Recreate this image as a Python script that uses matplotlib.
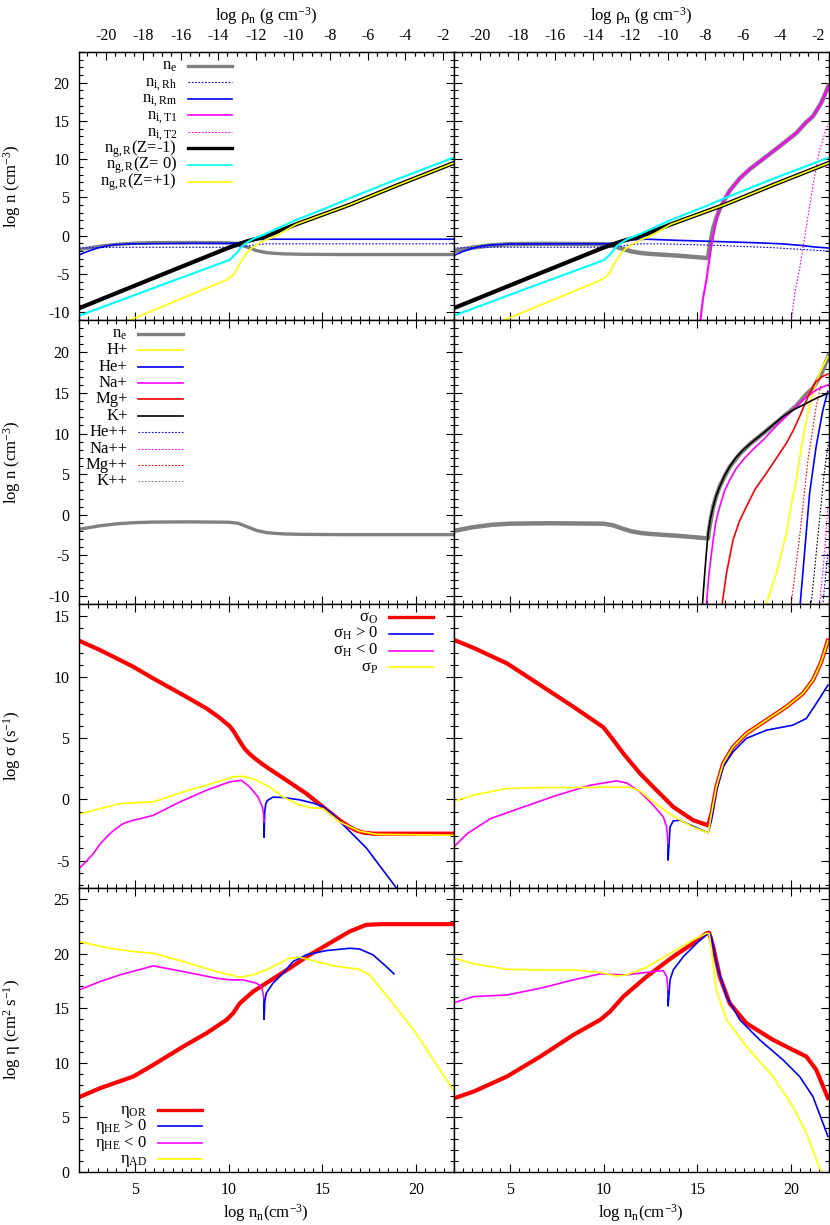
import matplotlib
matplotlib.use("Agg")
import matplotlib.pyplot as plt
from matplotlib.ticker import MultipleLocator, FixedLocator

plt.rcParams['font.family'] = ['Liberation Serif', 'DejaVu Serif']
plt.rcParams['mathtext.fontset'] = 'custom'
plt.rcParams['mathtext.rm'] = 'Liberation Serif'
plt.rcParams['mathtext.it'] = 'Liberation Serif:italic'
plt.rcParams['font.size'] = 12
plt.rcParams['axes.unicode_minus'] = False

LOG_MN = -23.43  # log10 of mean neutral mass (2.34 m_H), converts log n_n -> log rho_n

GRAY, BLUE, MAG, CYAN, YEL, RED = '#808080', '#0000ff', '#ff00ff', '#00ffff', '#ffff00', '#ff0000'

rho_ticks = [-20, -18, -16, -14, -12, -10, -8, -6, -4, -2]

# ---------------- electrons (rows 1 and 2) ----------------
ne_l_n = [2, 3, 4, 5, 6, 8, 10, 10.5, 11, 11.5, 12, 12.5, 13, 14, 16, 22]
ne_l = [-1.8, -1.4, -1.12, -0.97, -0.9, -0.88, -0.92, -1.05, -1.5, -1.95, -2.2, -2.3, -2.37, -2.42, -2.45, -2.45]

ne_r_n = [2, 3, 4, 5, 7, 10, 10.5, 11, 11.5, 12, 12.5, 14, 15.5, 15.58, 15.62, 15.7, 15.85, 16.03, 16.2,
          16.5, 16.73, 17.27, 17.8, 18.5, 19.4, 20.28, 20.8, 21.17, 21.4, 21.6, 21.8, 22]
ne_r = [-2.0, -1.55, -1.25, -1.1, -1.05, -1.1, -1.3, -1.7, -2.05, -2.25, -2.37, -2.6, -2.9, -2.9, -2.0, -0.9,
        1.0, 2.4, 3.5, 4.9, 5.9, 7.5, 8.7, 10.0, 11.7, 13.4, 14.8, 15.6, 16.5, 17.3, 18.4, 19.6]

# ---------------- row 1: ions and grains ----------------
rm_l_n = [2, 2.5, 3, 3.5, 4, 5, 8, 10, 10.5, 11, 11.5, 12, 22]
rm_l = [-2.5, -2.0, -1.6, -1.3, -1.15, -1.05, -1.0, -1.0, -0.9, -0.65, -0.5, -0.45, -0.45]
rh_l_n = [2, 4, 10, 11, 11.5, 12, 13, 22]
rh_l = [-1.6, -1.5, -1.5, -1.35, -1.15, -1.05, -1.05, -1.05]

rm_r_n = [2, 2.5, 3, 3.5, 4, 5, 8, 10, 10.5, 11, 11.5, 12.3, 14, 16, 18, 19.5, 20.5, 21.2, 22]
rm_r = [-2.6, -2.05, -1.65, -1.35, -1.2, -1.08, -1.05, -1.05, -0.95, -0.7, -0.55, -0.45, -0.6, -0.75, -0.9,
        -1.05, -1.25, -1.45, -1.6]
rh_r_n = [2, 4, 10, 11, 11.5, 12, 13, 16, 19, 22]
rh_r = [-1.6, -1.5, -1.5, -1.35, -1.15, -1.05, -1.05, -1.25, -1.55, -2.0]

t1_r_n = [15.15, 15.3, 15.5, 15.63, 15.76, 15.9, 16.03, 16.25, 16.56, 17.27, 17.8, 18.5, 19.4, 20.28, 20.8,
          21.17, 21.4, 21.6, 21.8, 22]
t1_r = [-11.5, -8.3, -5.6, -3.3, -1.25, 0.6, 2.25, 3.9, 5.3, 7.5, 8.7, 10.0, 11.7, 13.4, 14.8, 15.6, 16.5,
        17.3, 18.4, 19.6]
t2_r_n = [20.0, 20.2, 20.46, 20.8, 21.17, 21.5, 21.88, 22]
t2_r = [-11.5, -7.5, -4.3, 0.9, 6.6, 10.95, 14.0, 14.6]

gm_n = [2, 6, 10, 11, 12, 13.6, 16.45, 19, 22]
gm = [-9.47, -5.5, -1.55, -0.7, -0.05, 1.5, 4.05, 6.6, 9.5]
g0_n = [2, 6, 10.05, 10.4, 10.6, 10.8, 11.03, 11.3, 11.83, 13.6, 15.39, 16.45, 19, 22]
g0 = [-10.45, -6.8, -3.15, -2.3, -1.65, -1.15, -0.8, -0.4, 0.1, 2.07, 3.8, 4.9, 7.4, 10.2]
gp_n = [2, 4.72, 9.87, 10.15, 10.32, 10.59, 10.94, 11.2, 11.48, 11.9, 12.36, 12.7, 13.6, 16.45, 19, 22]
gp = [-13.8, -11.0, -5.77, -5.3, -4.9, -3.6, -2.3, -1.65, -1.2, -0.6, -0.2, 0.25, 1.5, 4.05, 6.6, 9.5]

# ---------------- row 2: ion species (right model) ----------------
kp_n = [15.2, 15.28, 15.4, 15.5, 15.58, 15.7, 15.85, 16.0, 16.2, 16.45, 16.73, 17.05, 17.44, 17.95, 18.51,
        19.0, 19.57, 20.1, 20.63, 21.0, 21.34, 21.65, 21.96]
kp = [-13, -10.96, -7.2, -4.3, -2.3, -0.5, 1.0, 2.3, 3.46, 4.8, 5.92, 7.0, 7.98, 9.0, 10.03, 11.0, 12.1,
      12.9, 13.5, 13.95, 14.35, 14.65, 14.96]
nap_n = [15.45, 15.49, 15.63, 15.85, 16.0, 16.2, 16.45, 16.73, 17.05, 17.44, 17.95, 18.51, 19.2, 19.9, 20.3,
         20.63, 21.0, 21.34, 21.65, 21.96]
nap = [-12, -11, -7.2, -3.1, -0.8, 1.0, 2.9, 4.28, 5.6, 6.74, 8.0, 9.2, 10.9, 12.5, 13.4, 14.14, 14.8,
       15.37, 15.7, 16.0]
mgp_n = [16.28, 16.33, 16.56, 16.91, 17.25, 17.62, 18.1, 18.68, 19.2, 19.75, 20.1, 20.46, 20.75, 20.99,
         21.34, 21.65, 21.96]
mgp = [-12, -11, -7.2, -3.1, -0.8, 1.0, 3.2, 5.1, 6.9, 8.8, 10.3, 12.1, 13.7, 14.96, 16.4, 17.0, 17.34]
hp_n = [18.6, 18.68, 19.22, 19.75, 20.0, 20.28, 20.5, 20.72, 20.95, 21.17, 21.35, 21.52, 21.75, 21.96]
hp = [-12, -11, -7.2, -2.3, 1.0, 4.28, 7.5, 10.44, 13.0, 14.96, 16.3, 17.4, 18.5, 19.5]
hep_n = [20.45, 20.49, 20.72, 20.99, 21.34, 21.7, 21.96]
hep = [-12, -11, -4.76, 2.6, 8.4, 12.9, 15.2]
mgpp_n = [19.95, 20.01, 20.46, 20.9, 21.34, 21.6]
mgpp = [-12, -11, -2.7, 6.7, 13.3, 16.0]
kpp_n = [21.03, 21.08, 21.43, 21.79, 22.0]
kpp = [-12, -11, -2.7, 5.5, 8.9]
napp_n = [21.47, 21.52, 21.79, 21.96]
napp = [-12, -11, -4.8, 1.0]
hepp_n = [21.65, 21.7, 21.96]
hepp = [-12, -11, -4.8]

# ---------------- row 3: conductivities ----------------
so_l_n = [2, 3.12, 4.01, 4.9, 5.97, 7.57, 8.81, 9.5, 10.05, 10.25, 10.45, 10.65, 10.85, 11.1, 11.4, 11.7,
          12.0, 13.07, 14.14, 15.03, 15.92, 16.4, 16.8, 17.2, 17.7, 22]
so_l = [13.0, 12.23, 11.55, 10.86, 9.9, 8.54, 7.45, 6.7, 6.0, 5.6, 5.1, 4.6, 4.15, 3.75, 3.35, 3.0,
        2.67, 1.58, 0.48, -0.61, -1.7, -2.2, -2.53, -2.72, -2.8, -2.8]
sp_l_n = [2, 3.12, 4.19, 5.97, 7.57, 8.81, 10.23, 10.76, 11.29, 12.18, 12.9, 13.6, 14.3, 15.03, 15.92, 16.98,
          17.87, 22]
sp_l = [-1.21, -0.75, -0.34, -0.2, 0.62, 1.17, 1.85, 1.9, 1.7, 1.02, 0.2, -0.34, -0.67, -0.75, -1.84, -2.6,
        -2.85, -2.93]
shn_l_n = [2, 2.4, 2.76, 3.1, 3.48, 3.8, 4.19, 4.4, 4.9, 5.2, 5.97, 7.39, 8.81, 10.05, 10.67, 11.12, 11.56,
           11.79, 11.86, 11.88]
shn_l = [-5.67, -5.05, -4.44, -3.7, -3.07, -2.6, -2.15, -1.95, -1.7, -1.6, -1.3, -0.2, 0.75, 1.44, 1.57,
         1.02, 0.2, -0.61, -1.2, -1.84]
shp_l_n = [11.88, 11.885, 11.92, 11.97, 12.05, 12.36, 12.9, 13.78, 14.5, 15.03, 15.57, 16.28, 17.35, 18.82, 19.2]
shp_l = [-1.84, -3.1, -1.0, -0.4, -0.1, 0.19, 0.16, -0.03, -0.3, -0.57, -1.25, -2.34, -3.98, -6.98, -7.8]

so_r_n = [2.05, 3.08, 4.85, 6.63, 8.4, 10.0, 10.53, 11.06, 11.95, 12.83, 13.72, 14.78, 15.58, 15.76, 16.02,
          16.38, 16.91, 17.62, 18.69, 19.75, 20.64, 21.17, 21.6, 21.97]
so_r = [13.05, 12.4, 11.14, 9.36, 7.58, 5.9, 4.85, 3.76, 2.12, 0.75, -0.61, -1.7, -2.12, -1.16, 1.02, 2.94,
        4.3, 5.4, 6.5, 7.58, 8.68, 9.77, 11.2, 13.0]
sp_r_n = [2.05, 3.08, 4.85, 6.63, 10.18, 11.42, 11.95, 12.83, 13.72, 14.78, 15.58, 15.76, 16.02, 16.38, 16.91,
          17.62, 18.69, 19.75, 20.64, 21.17, 21.6, 21.97]
sp_r = [-0.13, 0.36, 0.9, 0.96, 1.0, 1.0, 0.68, -0.41, -1.37, -2.27, -2.73, -1.16, 1.02, 2.94, 4.3, 5.4, 6.5,
        7.58, 8.68, 9.77, 11.2, 13.0]
shn_r_n = [2.05, 2.73, 3.97, 5.74, 7.51, 9.28, 10.7, 11.24, 11.95, 12.66, 13.19, 13.37, 13.44]
shn_r = [-3.84, -2.8, -1.57, -0.61, 0.34, 1.16, 1.52, 1.35, 0.61, -0.48, -1.43, -2.25, -3.6]
shp_r_n = [13.44, 13.445, 13.55, 13.72, 14.08, 14.78, 15.58, 15.76, 16.02, 16.38, 16.91, 17.62, 18.69, 20.1,
           20.82, 21.35, 21.97]
shp_r = [-3.6, -4.97, -2.25, -1.76, -1.7, -2.2, -2.73, -1.7, 0.75, 2.67, 3.9, 5.0, 5.67, 6.08, 6.63, 7.86, 9.36]

# ---------------- row 4: diffusivities ----------------
eo_l_n = [2, 3.12, 4.9, 5.97, 7.57, 8.81, 9.88, 10.23, 10.59, 11.3, 12.0, 13.25, 14.32, 15.39, 16.45, 17.34,
          18.23, 22]
eo_l = [6.85, 7.67, 8.74, 9.81, 11.49, 12.71, 13.93, 14.54, 15.45, 16.52, 17.29, 18.66, 19.88, 20.95, 22.02,
        22.63, 22.69, 22.69]
ea_l_n = [2, 3.65, 4.9, 5.97, 7.57, 9.35, 10.59, 11.3, 12.0, 13.25, 13.78, 14.67, 15.57, 16.98, 17.52, 18.76,
          20.0, 22]
ea_l = [21.09, 20.48, 20.18, 20.03, 19.27, 18.35, 17.83, 18.05, 18.5, 19.57, 19.66, 19.27, 18.87, 18.56,
        18.05, 15.45, 12.71, 7.47]
ehn_l_n = [2, 3.12, 4.19, 5.97, 7.57, 9.35, 10.05, 10.76, 11.47, 11.74, 11.83, 11.88]
ehn_l = [16.67, 17.43, 18.05, 18.87, 18.35, 17.74, 17.59, 17.59, 17.29, 16.98, 16.37, 15.9]
ehp_l_n = [11.88, 11.885, 11.92, 12.0, 12.36, 12.9, 13.43, 14.14, 15.21, 16.45, 16.98, 17.7, 18.41, 18.82]
ehp_l = [15.9, 13.98, 15.6, 16.37, 17.29, 18.2, 19.27, 19.88, 20.27, 20.48, 20.42, 19.88, 18.81, 18.14]

eo_r_n = [2.05, 3.08, 4.85, 6.63, 8.4, 9.82, 10.35, 11.06, 12.3, 13.72, 14.78, 15.49, 15.63, 15.85, 16.2,
          16.73, 17.62, 19.04, 20.1, 20.82, 21.35, 21.97]
eo_r = [6.76, 7.37, 8.74, 10.57, 12.56, 13.93, 14.69, 16.06, 17.89, 19.72, 20.94, 21.85, 21.91, 20.64, 17.89,
        15.45, 13.62, 12.1, 11.18, 10.57, 9.35, 6.76]
ea_r_n = [2.05, 3.08, 4.85, 6.63, 8.4, 9.82, 10.71, 11.24, 12.3, 13.72, 14.78, 15.49, 15.63, 15.76, 16.02,
          16.56, 17.62, 19.04, 20.1, 20.82, 21.53, 21.75]
ea_r = [19.57, 19.05, 18.56, 18.5, 18.5, 18.26, 17.95, 18.05, 18.75, 20.18, 21.24, 21.85, 21.85, 20.33, 16.67,
        13.93, 11.49, 8.74, 6.0, 3.56, 0.36, -0.6]
ehn_r_n = [2.05, 3.08, 4.85, 6.63, 8.4, 9.82, 11.24, 12.66, 13.19, 13.37, 13.44]
ehn_r = [15.51, 16.06, 16.21, 16.82, 17.59, 18.14, 18.05, 18.35, 18.44, 17.89, 16.67]
ehp_r_n = [13.44, 13.445, 13.55, 13.72, 14.26, 14.97, 15.63, 15.76, 16.02, 16.56, 17.27, 18.33, 19.57, 20.46,
           21.17, 21.97]
ehp_r = [16.67, 15.2, 17.59, 18.5, 19.72, 20.94, 21.91, 21.55, 19.11, 16.06, 13.93, 12.1, 10.27, 8.74, 6.91,
         3.26]

# ---------------- figure layout (pixel boxes of the panels) ----------------
W, H = 830, 1225
fig = plt.figure(figsize=(W / 100, H / 100), dpi=100)
cols = [(79, 453.5), (453.5, 828.5)]
rows = [(52, 320), (320, 604), (604, 888), (888, 1172)]
ylims = [(-11, 24), (-11, 24), (-7.25, 16), (0, 26)]
TICK_FS = 11.5

axes = []
for r, (yt, yb) in enumerate(rows):
    line = []
    for c, (xl, xr) in enumerate(cols):
        ax = fig.add_axes([xl / W, 1 - yb / H, (xr - xl) / W, (yb - yt) / H])
        ax.set_xlim(2, 22)
        ax.set_ylim(*ylims[r])
        ax.xaxis.set_major_locator(MultipleLocator(5))
        ax.xaxis.set_minor_locator(MultipleLocator(0.5))
        ax.yaxis.set_major_locator(MultipleLocator(5))
        ax.yaxis.set_minor_locator(MultipleLocator(1))
        ax.tick_params(which='both', direction='in', top=(r != 0), bottom=True, left=True, right=True,
                       width=0.8, labelsize=TICK_FS)
        ax.tick_params(which='major', length=6)
        ax.tick_params(which='minor', length=3)
        ax.tick_params(axis='y', pad=7)
        ax.tick_params(axis='x', pad=7)
        for s in ax.spines.values():
            s.set_linewidth(1.0)
        if c == 1:
            ax.tick_params(labelleft=False)
        if r != 3:
            ax.tick_params(labelbottom=False)
        if r == 0:
            top = ax.secondary_xaxis('top', functions=(lambda n: n + LOG_MN, lambda rho: rho - LOG_MN))
            top.xaxis.set_major_locator(FixedLocator(rho_ticks))
            top.xaxis.set_minor_locator(FixedLocator([t + 0.5 * k for t in rho_ticks for k in (-3, -2, -1, 1, 2, 3)
                                                      if -21.4 < t + 0.5 * k < -1.5]))
            top.tick_params(which='both', direction='in', width=0.8, labelsize=TICK_FS, pad=6)
            top.tick_params(which='major', length=6)
            top.tick_params(which='minor', length=3)
            top.set_xlabel(r'log ρ$_\mathrm{n}$ (g cm$^{-3}$)', labelpad=5)
        if r == 3:
            ax.set_xlabel(r'log n$_\mathrm{n}$(cm$^{-3}$)', labelpad=3)
        line.append(ax)
    axes.append(line)

ylabels = [r'log n (cm$^{-3}$)', r'log n (cm$^{-3}$)', r'log σ (s$^{-1}$)', r'log η (cm$^{2}$ s$^{-1}$)']
for r in range(4):
    axes[r][0].set_ylabel(ylabels[r])
    axes[r][0].yaxis.set_label_coords(-0.150, 0.5)


def draw_key(ax, entries, x_text, x0, x1, y0, dy):
    h = ax.get_position().height * H
    for i, (label, color, lw, ls) in enumerate(entries):
        y = y0 - i * dy
        ax.plot([x0, x1], [y, y], transform=ax.transAxes, color=color, lw=lw, ls=ls, clip_on=False)
        ax.text(x_text, y - 4.0 / h, label, transform=ax.transAxes, ha='right', va='baseline')


THICK, THIN, DOT = 2.4, 1.2, 0.8
dots = (0, (1.5, 1.5))

# row 1
for c, ax in enumerate(axes[0]):
    if c == 0:
        ax.plot(ne_l_n, ne_l, color=GRAY, lw=THICK)
        ax.plot(rh_l_n, rh_l, color=BLUE, lw=DOT, ls=dots)
        ax.plot(rm_l_n, rm_l, color=BLUE, lw=THIN)
    else:
        ax.plot(ne_r_n, ne_r, color=GRAY, lw=THICK + 0.8)
        ax.plot(rh_r_n, rh_r, color=BLUE, lw=DOT, ls=dots)
        ax.plot(rm_r_n, rm_r, color=BLUE, lw=THIN)
        ax.plot(t1_r_n, t1_r, color=MAG, lw=THIN + 0.3)
        ax.plot(t2_r_n, t2_r, color=MAG, lw=DOT, ls=dots)
    ax.plot(gm_n, gm, color='black', lw=THICK + 0.6)
    ax.plot(g0_n, g0, color=CYAN, lw=THIN + 0.3)
    ax.plot(gp_n, gp, color=YEL, lw=THIN)

draw_key(axes[0][0], [
    (r'n$_\mathrm{e}$', GRAY, THICK, '-'),
    (r'n$_\mathrm{i,Rh}$', BLUE, DOT, dots),
    (r'n$_\mathrm{i,Rm}$', BLUE, THIN, '-'),
    (r'n$_\mathrm{i,T1}$', MAG, THIN, '-'),
    (r'n$_\mathrm{i,T2}$', MAG, DOT, dots),
    (r'n$_\mathrm{g,R}$(Z=-1)', 'black', THICK, '-'),
    (r'n$_\mathrm{g,R}$(Z= 0)', CYAN, THIN, '-'),
    (r'n$_\mathrm{g,R}$(Z=+1)', YEL, THIN, '-'),
], 0.262, 0.291, 0.409, 0.949, 0.0618)

# row 2
axes[1][0].plot(ne_l_n, ne_l, color=GRAY, lw=THICK)
ax = axes[1][1]
ax.plot(ne_r_n, ne_r, color=GRAY, lw=THICK + 0.8)
ax.plot(hp_n, hp, color=YEL, lw=THIN)
ax.plot(hep_n, hep, color=BLUE, lw=THIN)
ax.plot(nap_n, nap, color=MAG, lw=THIN)
ax.plot(mgp_n, mgp, color=RED, lw=THIN)
ax.plot(kp_n, kp, color='black', lw=THIN)
ax.plot(hepp_n, hepp, color=BLUE, lw=DOT, ls=dots)
ax.plot(napp_n, napp, color=MAG, lw=DOT, ls=dots)
ax.plot(mgpp_n, mgpp, color=RED, lw=DOT, ls=dots)
ax.plot(kpp_n, kpp, color='black', lw=DOT, ls=dots)

draw_key(axes[1][0], [
    (r'n$_\mathrm{e}$', GRAY, THICK, '-'),
    ('H+', YEL, THIN, '-'),
    ('He+', BLUE, THIN, '-'),
    ('Na+', MAG, THIN, '-'),
    ('Mg+', RED, THIN, '-'),
    ('K+', 'black', THIN, '-'),
    ('He++', BLUE, DOT, dots),
    ('Na++', MAG, DOT, dots),
    ('Mg++', RED, DOT, dots),
    ('K++', GRAY, DOT, dots),
], 0.130, 0.158, 0.278, 0.951, 0.0577)

# row 3
for ax, (so_n, so, sp_n, sp, shn_n, shn, shp_n, shp) in zip(axes[2], [
        (so_l_n, so_l, sp_l_n, sp_l, shn_l_n, shn_l, shp_l_n, shp_l),
        (so_r_n, so_r, sp_r_n, sp_r, shn_r_n, shn_r, shp_r_n, shp_r)]):
    ax.plot(so_n, so, color=RED, lw=3.0)
    ax.plot(shp_n, shp, color=BLUE, lw=THIN)
    ax.plot(shn_n, shn, color=MAG, lw=THIN)
    ax.plot(sp_n, sp, color=YEL, lw=THIN)

draw_key(axes[2][0], [
    (r'σ$_\mathrm{O}$', RED, THICK, '-'),
    (r'σ$_\mathrm{H}$ > 0', BLUE, THIN, '-'),
    (r'σ$_\mathrm{H}$ < 0', MAG, THIN, '-'),
    (r'σ$_\mathrm{P}$', YEL, THIN, '-'),
], 0.798, 0.828, 0.945, 0.953, 0.0587)

# row 4
for ax, (eo_n, eo, ea_n, ea, ehn_n, ehn, ehp_n, ehp) in zip(axes[3], [
        (eo_l_n, eo_l, ea_l_n, ea_l, ehn_l_n, ehn_l, ehp_l_n, ehp_l),
        (eo_r_n, eo_r, ea_r_n, ea_r, ehn_r_n, ehn_r, ehp_r_n, ehp_r)]):
    ax.plot(eo_n, eo, color=RED, lw=3.0)
    ax.plot(ehp_n, ehp, color=BLUE, lw=THIN)
    ax.plot(ehn_n, ehn, color=MAG, lw=THIN)
    ax.plot(ea_n, ea, color=YEL, lw=THIN)

draw_key(axes[3][0], [
    (r'η$_\mathrm{OR}$', RED, THICK, '-'),
    (r'η$_\mathrm{HE}$ > 0', BLUE, THIN, '-'),
    (r'η$_\mathrm{HE}$ < 0', MAG, THIN, '-'),
    (r'η$_\mathrm{AD}$', YEL, THIN, '-'),
], 0.1816, 0.211, 0.328, 0.219, 0.0583)

fig.savefig('out.png', dpi=100)
